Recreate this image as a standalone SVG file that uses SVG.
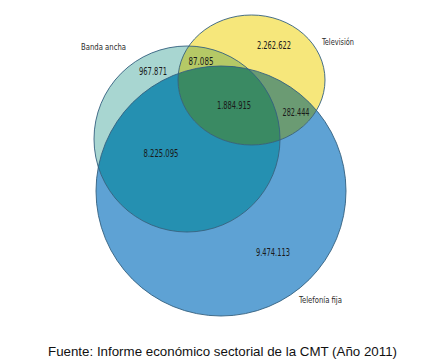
<svg xmlns="http://www.w3.org/2000/svg" width="442" height="362" viewBox="0 0 442 362">
<style>
.lbl{font-family:"Liberation Sans Narrow","DejaVu Sans Condensed","Liberation Sans",sans-serif;font-size:9.5px;fill:#2a2a2a}
.num{font-family:"Liberation Sans Narrow","DejaVu Sans Condensed","Liberation Sans",sans-serif;font-size:10px;fill:#1a1a1a;text-anchor:middle}
.edge{fill:none;stroke:#33607f;stroke-width:0.9}
</style>
<defs>
<clipPath id="cBlue"><circle cx="221" cy="191" r="125"/></clipPath>
<clipPath id="cTeal"><circle cx="187" cy="139" r="93"/></clipPath>
<clipPath id="cYel"><ellipse cx="251.5" cy="80" rx="73.5" ry="65"/></clipPath>
</defs>
<rect width="442" height="362" fill="#ffffff"/>
<g id="fills">
<circle cx="221" cy="191" r="125" fill="#5ea2d4"/>
<circle cx="187" cy="139" r="93" fill="#a8d6d1"/>
<ellipse cx="251.5" cy="80" rx="73.5" ry="65" fill="#f6e77b"/>
<g clip-path="url(#cBlue)"><circle cx="187" cy="139" r="93" fill="#2590b1"/></g>
<g clip-path="url(#cTeal)"><ellipse cx="251.5" cy="80" rx="73.5" ry="65" fill="#b5c966"/></g>
<g clip-path="url(#cBlue)"><ellipse cx="251.5" cy="80" rx="73.5" ry="65" fill="#6b9b73"/></g>
<g clip-path="url(#cBlue)"><g clip-path="url(#cTeal)"><ellipse cx="251.5" cy="80" rx="73.5" ry="65" fill="#3a8a63"/></g></g>
</g>
<g id="telefonia">
<circle class="edge" cx="221" cy="191" r="125"/>
<text class="lbl" x="299" y="303" textLength="43" lengthAdjust="spacingAndGlyphs">Telefonía fija</text>
<text class="num" x="273" y="256" textLength="34" lengthAdjust="spacingAndGlyphs">9.474.113</text>
</g>
<g id="banda">
<circle class="edge" cx="187" cy="139" r="93"/>
<text class="lbl" x="81" y="50" textLength="45" lengthAdjust="spacingAndGlyphs">Banda ancha</text>
<text class="num" x="153" y="75" textLength="28" lengthAdjust="spacingAndGlyphs">967.871</text>
</g>
<g id="television">
<ellipse class="edge" cx="251.5" cy="80" rx="73.5" ry="65"/>
<text class="lbl" x="322" y="45" textLength="32" lengthAdjust="spacingAndGlyphs">Televisión</text>
<text class="num" x="274" y="49" textLength="34" lengthAdjust="spacingAndGlyphs">2.262.622</text>
</g>
<g id="intersections">
<text class="num" x="201" y="65" textLength="25" lengthAdjust="spacingAndGlyphs">87.085</text>
<text class="num" x="234" y="109" textLength="34" lengthAdjust="spacingAndGlyphs">1.884.915</text>
<text class="num" x="296" y="116" textLength="27" lengthAdjust="spacingAndGlyphs">282.444</text>
<text class="num" x="161" y="157" textLength="35" lengthAdjust="spacingAndGlyphs">8.225.095</text>
</g>
<text x="222.5" y="356" text-anchor="middle" font-family="'Liberation Sans',Arial,sans-serif" font-size="13" fill="#111" textLength="349" lengthAdjust="spacingAndGlyphs">Fuente: Informe económico sectorial de la CMT (Año 2011)</text>
</svg>
